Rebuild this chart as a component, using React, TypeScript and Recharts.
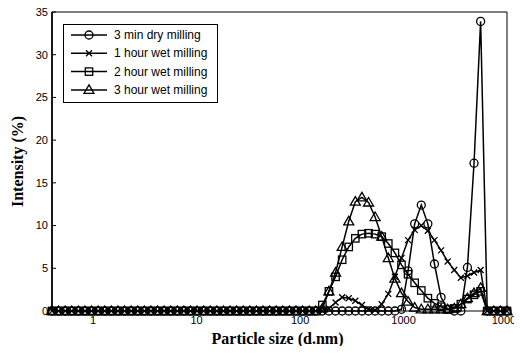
import React from 'react';
import { LineChart, Line, XAxis, YAxis, Legend, Label } from 'recharts';

// Malvern size classes (d.nm)
const sizes = [
  0.4, 0.4632, 0.5365, 0.6213, 0.7195, 0.8332, 0.9649, 1.117, 1.294, 1.499,
  1.736, 2.01, 2.328, 2.696, 3.122, 3.615, 4.187, 4.849, 5.615, 6.503,
  7.531, 8.721, 10.1, 11.7, 13.54, 15.69, 18.17, 21.04, 24.36, 28.21,
  32.67, 37.84, 43.82, 50.75, 58.77, 68.06, 78.82, 91.28, 105.7, 122.4,
  141.8, 164.2, 190.1, 220.2, 255.0, 295.3, 342.0, 396.1, 458.7, 531.2,
  615.1, 712.4, 825.0, 955.4, 1106, 1281, 1484, 1718, 1990, 2305,
  2669, 3091, 3580, 4145, 4801, 5560, 6439, 7456, 8635, 10000,
];

const dry3min = [
  0, 0, 0, 0, 0, 0, 0, 0, 0, 0,
  0, 0, 0, 0, 0, 0, 0, 0, 0, 0,
  0, 0, 0, 0, 0, 0, 0, 0, 0, 0,
  0, 0, 0, 0, 0, 0, 0, 0, 0, 0,
  0, 0, 0, 0, 0, 0, 0, 0, 0, 0,
  0, 0, 0, 0.2, 4.7, 10.2, 12.4, 10.2, 5.5, 1.6,
  0.2, 0, 0, 5.1, 17.3, 33.9, 0, 0, 0, 0,
];

const wet1h = [
  0, 0, 0, 0, 0, 0, 0, 0, 0, 0,
  0, 0, 0, 0, 0, 0, 0, 0, 0, 0,
  0, 0, 0, 0, 0, 0, 0, 0, 0, 0,
  0, 0, 0, 0, 0, 0, 0, 0, 0, 0,
  0, 0, 0.3, 1.0, 1.6, 1.5, 1.2, 0.7, 0.2, 0.1,
  0.8, 2.0, 4.0, 6.2, 8.3, 9.5, 10.0, 9.4, 8.3, 7.1,
  5.8, 4.8, 3.9, 4.1, 4.5, 4.8, 0, 0, 0, 0,
];

const wet2h = [
  0, 0, 0, 0, 0, 0, 0, 0, 0, 0,
  0, 0, 0, 0, 0, 0, 0, 0, 0, 0,
  0, 0, 0, 0, 0, 0, 0, 0, 0, 0,
  0, 0, 0, 0, 0, 0, 0, 0, 0, 0,
  0, 0.7, 2.3, 4.0, 6.0, 7.5, 8.5, 9.0, 9.1, 9.0,
  8.7, 7.9, 6.8, 5.4, 4.3, 3.3, 2.4, 1.5, 0.9, 0.5,
  0.2, 0.3, 0.8, 1.4, 1.9, 2.3, 0, 0, 0, 0,
];

const wet3h = [
  0, 0, 0, 0, 0, 0, 0, 0, 0, 0,
  0, 0, 0, 0, 0, 0, 0, 0, 0, 0,
  0, 0, 0, 0, 0, 0, 0, 0, 0, 0,
  0, 0, 0, 0, 0, 0, 0, 0, 0, 0,
  0, 0.3, 2.3, 4.5, 7.5, 10.5, 12.8, 13.3, 12.7, 11.0,
  8.7, 6.2, 3.8, 2.1, 1.1, 0.4, 0.2, 0.2, 0.2, 0.2,
  0.2, 0.3, 0.8, 1.5, 2.1, 2.7, 0, 0, 0, 0,
];

const xTicks = [1, 10, 100, 1000, 10000];
const xMinorTicks = [
  0.5, 0.6, 0.7, 0.8, 0.9,
  2, 3, 4, 5, 6, 7, 8, 9,
  20, 30, 40, 50, 60, 70, 80, 90,
  200, 300, 400, 500, 600, 700, 800, 900,
  2000, 3000, 4000, 5000, 6000, 7000, 8000, 9000,
];
const yTicks = [0, 5, 10, 15, 20, 25, 30, 35];

const series = [
  { key: 'dry3min', name: '3 min dry milling', shape: 'circle' },
  { key: 'wet1h', name: '1 hour wet milling', shape: 'x' },
  { key: 'wet2h', name: '2 hour wet milling', shape: 'square' },
  { key: 'wet3h', name: '3 hour wet milling', shape: 'triangle' },
];

const data = sizes.map((s, i) => ({
  size: s,
  dry3min: dry3min[i],
  wet1h: wet1h[i],
  wet2h: wet2h[i],
  wet3h: wet3h[i],
}));

const SANS = 'Liberation Sans, Arial, sans-serif';
const SERIF = 'Liberation Serif, Times New Roman, serif';

function Marker({ shape, cx, cy }: { shape: string; cx: number; cy: number }) {
  const s = { fill: 'none', stroke: '#000', strokeWidth: 1.3 };
  if (shape === 'circle') return <circle cx={cx} cy={cy} r={4} {...s} />;
  if (shape === 'x')
    return (
      <path
        d={`M${cx - 3},${cy - 3}L${cx + 3},${cy + 3}M${cx - 3},${cy + 3}L${cx + 3},${cy - 3}`}
        {...s}
      />
    );
  if (shape === 'square')
    return <rect x={cx - 3.7} y={cy - 3.7} width={7.4} height={7.4} {...s} />;
  return <path d={`M${cx},${cy - 5}L${cx + 5},${cy + 3.5}L${cx - 5},${cy + 3.5}Z`} {...s} />;
}

const renderLegend = () => (
  <svg width={155} height={79} style={{ display: 'block' }}>
    <rect x={0.5} y={0.5} width={154} height={78} fill="#fff" stroke="#000" strokeWidth={1} />
    {series.map((s, i) => {
      const y = 11 + i * 18.3;
      return (
        <g key={s.key}>
          <line x1={8} x2={44} y1={y} y2={y} stroke="#000" strokeWidth={1.5} />
          <Marker shape={s.shape} cx={26} cy={y} />
          <text x={51} y={y} dominantBaseline="central" fontSize={12} fontFamily={SANS} fill="#000">
            {s.name}
          </text>
        </g>
      );
    })}
  </svg>
);

export default function App() {
  return (
    <div style={{ margin: -8 }}>
      <LineChart
        width={522}
        height={354}
        data={data}
        margin={{ top: 10, right: 14, bottom: 13, left: 12 }}
      >
        <XAxis
          xAxisId="b"
          dataKey="size"
          type="number"
          scale="log"
          domain={[0.4, 10000]}
          ticks={xTicks}
          interval={0}
          height={30}
          tickSize={-4}
          tickMargin={9}
          axisLine={{ stroke: '#000' }}
          tickLine={{ stroke: '#000' }}
          tick={{ fill: '#000', fontSize: 11, fontFamily: SANS }}
        >
          <Label
            content={(props: any) => {
              const vb = props.viewBox || { x: 52, y: 311, width: 455, height: 30 };
              return (
                <text
                  x={vb.x + vb.width / 2 - 2}
                  y={vb.y + 33}
                  textAnchor="middle"
                  fontSize={16}
                  fontWeight="bold"
                  fontFamily={SERIF}
                  fill="#000"
                >
                  Particle size (d.nm)
                </text>
              );
            }}
          />
        </XAxis>
        <XAxis
          xAxisId="t"
          dataKey="size"
          orientation="top"
          type="number"
          scale="log"
          domain={[0.4, 10000]}
          ticks={xTicks}
          interval={0}
          height={1}
          tickSize={-4}
          tick={false}
          axisLine={{ stroke: '#000' }}
          tickLine={{ stroke: '#000' }}
        />
        <XAxis
          xAxisId="tm"
          dataKey="size"
          orientation="top"
          type="number"
          scale="log"
          domain={[0.4, 10000]}
          ticks={xMinorTicks}
          interval={0}
          height={1}
          tickSize={-3}
          tick={false}
          axisLine={false}
          tickLine={{ stroke: '#000' }}
        />
        <YAxis
          yAxisId="l"
          type="number"
          domain={[0, 35]}
          ticks={yTicks}
          interval={0}
          width={40}
          tickSize={-4}
          tickMargin={8}
          axisLine={{ stroke: '#000', strokeWidth: 1.8 }}
          tickLine={{ stroke: '#000' }}
          tick={{ fill: '#000', fontSize: 11, fontFamily: SANS }}
        >
          <Label
            content={(props: any) => {
              const vb = props.viewBox || { x: 12, y: 12, width: 40, height: 299 };
              const cx = vb.x + vb.width - 35;
              const cy = vb.y + vb.height / 2;
              return (
                <text
                  x={cx}
                  y={cy}
                  transform={`rotate(-90, ${cx}, ${cy})`}
                  textAnchor="middle"
                  dominantBaseline="central"
                  fontSize={16}
                  fontWeight="bold"
                  fontFamily={SERIF}
                  fill="#000"
                >
                  Intensity (%)
                </text>
              );
            }}
          />
        </YAxis>
        <YAxis
          yAxisId="r"
          orientation="right"
          type="number"
          domain={[0, 35]}
          ticks={yTicks}
          interval={0}
          width={1}
          tickSize={-4}
          tick={false}
          axisLine={{ stroke: '#000' }}
          tickLine={{ stroke: '#000' }}
        />
        <Legend
          layout="vertical"
          align="center"
          verticalAlign="middle"
          content={renderLegend}
          wrapperStyle={{ left: 63, top: 24, width: 155, height: 79 }}
        />
        {series.map((s) => (
          <Line
            key={s.key}
            xAxisId="b"
            yAxisId="l"
            type="linear"
            dataKey={s.key}
            name={s.name}
            stroke="#000"
            strokeWidth={1.5}
            isAnimationActive={false}
            activeDot={false}
            dot={(p: any) => <Marker key={`${s.key}-${p.index}`} shape={s.shape} cx={p.cx} cy={p.cy} />}
          />
        ))}
      </LineChart>
    </div>
  );
}
